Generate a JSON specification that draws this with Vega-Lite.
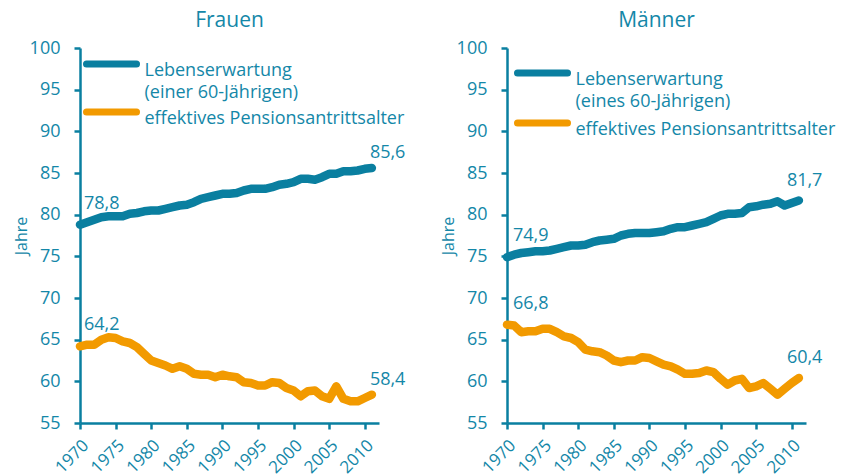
{
"$schema": "https://vega.github.io/schema/vega-lite/v6.json",
"padding": {"left": 13, "top": 10, "right": 2, "bottom": 0},
"config": {
  "font": "Open Sans",
  "view": {"stroke": null},
  "locale": {"number": {"decimal": ",", "thousands": ".", "grouping": [3], "currency": ["", " €"]}},
  "axis": {"domainColor": "#0a7fa0", "tickColor": "#0a7fa0", "labelColor": "#1487a8", "titleColor": "#1487a8", "grid": false, "domainWidth": 2.5, "tickWidth": 2.5, "tickSize": 6, "labelFontSize": 18, "titleFontSize": 16, "titleFontWeight": "normal"},
  "axisX": {"labelFontSize": 17},
  "title": {"color": "#1487a8", "fontSize": 21, "fontWeight": "normal", "offset": 8},
  "concat": {"spacing": 34}
},
"data": {"values": [
{"g":"Frauen","s":"LE","year":1970,"v":78.8},{"g":"Frauen","s":"LE","year":1971,"v":79.1},{"g":"Frauen","s":"LE","year":1972,"v":79.4},{"g":"Frauen","s":"LE","year":1973,"v":79.7},{"g":"Frauen","s":"LE","year":1974,"v":79.8},{"g":"Frauen","s":"LE","year":1975,"v":79.8},{"g":"Frauen","s":"LE","year":1976,"v":79.8},{"g":"Frauen","s":"LE","year":1977,"v":80.1},{"g":"Frauen","s":"LE","year":1978,"v":80.2},{"g":"Frauen","s":"LE","year":1979,"v":80.4},{"g":"Frauen","s":"LE","year":1980,"v":80.5},{"g":"Frauen","s":"LE","year":1981,"v":80.5},{"g":"Frauen","s":"LE","year":1982,"v":80.7},{"g":"Frauen","s":"LE","year":1983,"v":80.9},{"g":"Frauen","s":"LE","year":1984,"v":81.1},{"g":"Frauen","s":"LE","year":1985,"v":81.2},{"g":"Frauen","s":"LE","year":1986,"v":81.5},{"g":"Frauen","s":"LE","year":1987,"v":81.9},{"g":"Frauen","s":"LE","year":1988,"v":82.1},{"g":"Frauen","s":"LE","year":1989,"v":82.3},{"g":"Frauen","s":"LE","year":1990,"v":82.5},{"g":"Frauen","s":"LE","year":1991,"v":82.5},{"g":"Frauen","s":"LE","year":1992,"v":82.6},{"g":"Frauen","s":"LE","year":1993,"v":82.9},{"g":"Frauen","s":"LE","year":1994,"v":83.1},{"g":"Frauen","s":"LE","year":1995,"v":83.1},{"g":"Frauen","s":"LE","year":1996,"v":83.1},{"g":"Frauen","s":"LE","year":1997,"v":83.3},{"g":"Frauen","s":"LE","year":1998,"v":83.6},{"g":"Frauen","s":"LE","year":1999,"v":83.7},{"g":"Frauen","s":"LE","year":2000,"v":83.9},{"g":"Frauen","s":"LE","year":2001,"v":84.3},{"g":"Frauen","s":"LE","year":2002,"v":84.3},{"g":"Frauen","s":"LE","year":2003,"v":84.2},{"g":"Frauen","s":"LE","year":2004,"v":84.5},{"g":"Frauen","s":"LE","year":2005,"v":84.9},{"g":"Frauen","s":"LE","year":2006,"v":84.9},{"g":"Frauen","s":"LE","year":2007,"v":85.2},{"g":"Frauen","s":"LE","year":2008,"v":85.2},{"g":"Frauen","s":"LE","year":2009,"v":85.3},{"g":"Frauen","s":"LE","year":2010,"v":85.5},{"g":"Frauen","s":"LE","year":2011,"v":85.6},
{"g":"Frauen","s":"PA","year":1970,"v":64.2},{"g":"Frauen","s":"PA","year":1971,"v":64.4},{"g":"Frauen","s":"PA","year":1972,"v":64.4},{"g":"Frauen","s":"PA","year":1973,"v":65.0},{"g":"Frauen","s":"PA","year":1974,"v":65.3},{"g":"Frauen","s":"PA","year":1975,"v":65.2},{"g":"Frauen","s":"PA","year":1976,"v":64.8},{"g":"Frauen","s":"PA","year":1977,"v":64.6},{"g":"Frauen","s":"PA","year":1978,"v":64.1},{"g":"Frauen","s":"PA","year":1979,"v":63.3},{"g":"Frauen","s":"PA","year":1980,"v":62.5},{"g":"Frauen","s":"PA","year":1981,"v":62.2},{"g":"Frauen","s":"PA","year":1982,"v":61.9},{"g":"Frauen","s":"PA","year":1983,"v":61.5},{"g":"Frauen","s":"PA","year":1984,"v":61.8},{"g":"Frauen","s":"PA","year":1985,"v":61.5},{"g":"Frauen","s":"PA","year":1986,"v":60.9},{"g":"Frauen","s":"PA","year":1987,"v":60.8},{"g":"Frauen","s":"PA","year":1988,"v":60.8},{"g":"Frauen","s":"PA","year":1989,"v":60.5},{"g":"Frauen","s":"PA","year":1990,"v":60.8},{"g":"Frauen","s":"PA","year":1991,"v":60.6},{"g":"Frauen","s":"PA","year":1992,"v":60.5},{"g":"Frauen","s":"PA","year":1993,"v":59.9},{"g":"Frauen","s":"PA","year":1994,"v":59.8},{"g":"Frauen","s":"PA","year":1995,"v":59.5},{"g":"Frauen","s":"PA","year":1996,"v":59.5},{"g":"Frauen","s":"PA","year":1997,"v":59.9},{"g":"Frauen","s":"PA","year":1998,"v":59.8},{"g":"Frauen","s":"PA","year":1999,"v":59.2},{"g":"Frauen","s":"PA","year":2000,"v":58.9},{"g":"Frauen","s":"PA","year":2001,"v":58.2},{"g":"Frauen","s":"PA","year":2002,"v":58.8},{"g":"Frauen","s":"PA","year":2003,"v":58.9},{"g":"Frauen","s":"PA","year":2004,"v":58.2},{"g":"Frauen","s":"PA","year":2005,"v":57.9},{"g":"Frauen","s":"PA","year":2006,"v":59.4},{"g":"Frauen","s":"PA","year":2007,"v":57.9},{"g":"Frauen","s":"PA","year":2008,"v":57.6},{"g":"Frauen","s":"PA","year":2009,"v":57.6},{"g":"Frauen","s":"PA","year":2010,"v":58.0},{"g":"Frauen","s":"PA","year":2011,"v":58.4},
{"g":"Männer","s":"LE","year":1970,"v":74.9},{"g":"Männer","s":"LE","year":1971,"v":75.2},{"g":"Männer","s":"LE","year":1972,"v":75.4},{"g":"Männer","s":"LE","year":1973,"v":75.5},{"g":"Männer","s":"LE","year":1974,"v":75.6},{"g":"Männer","s":"LE","year":1975,"v":75.6},{"g":"Männer","s":"LE","year":1976,"v":75.7},{"g":"Männer","s":"LE","year":1977,"v":75.9},{"g":"Männer","s":"LE","year":1978,"v":76.1},{"g":"Männer","s":"LE","year":1979,"v":76.3},{"g":"Männer","s":"LE","year":1980,"v":76.3},{"g":"Männer","s":"LE","year":1981,"v":76.4},{"g":"Männer","s":"LE","year":1982,"v":76.7},{"g":"Männer","s":"LE","year":1983,"v":76.9},{"g":"Männer","s":"LE","year":1984,"v":77.0},{"g":"Männer","s":"LE","year":1985,"v":77.1},{"g":"Männer","s":"LE","year":1986,"v":77.5},{"g":"Männer","s":"LE","year":1987,"v":77.7},{"g":"Männer","s":"LE","year":1988,"v":77.8},{"g":"Männer","s":"LE","year":1989,"v":77.8},{"g":"Männer","s":"LE","year":1990,"v":77.8},{"g":"Männer","s":"LE","year":1991,"v":77.9},{"g":"Männer","s":"LE","year":1992,"v":78.0},{"g":"Männer","s":"LE","year":1993,"v":78.3},{"g":"Männer","s":"LE","year":1994,"v":78.5},{"g":"Männer","s":"LE","year":1995,"v":78.5},{"g":"Männer","s":"LE","year":1996,"v":78.7},{"g":"Männer","s":"LE","year":1997,"v":78.9},{"g":"Männer","s":"LE","year":1998,"v":79.1},{"g":"Männer","s":"LE","year":1999,"v":79.5},{"g":"Männer","s":"LE","year":2000,"v":79.9},{"g":"Männer","s":"LE","year":2001,"v":80.1},{"g":"Männer","s":"LE","year":2002,"v":80.1},{"g":"Männer","s":"LE","year":2003,"v":80.2},{"g":"Männer","s":"LE","year":2004,"v":80.9},{"g":"Männer","s":"LE","year":2005,"v":81.0},{"g":"Männer","s":"LE","year":2006,"v":81.2},{"g":"Männer","s":"LE","year":2007,"v":81.3},{"g":"Männer","s":"LE","year":2008,"v":81.6},{"g":"Männer","s":"LE","year":2009,"v":81.1},{"g":"Männer","s":"LE","year":2010,"v":81.4},{"g":"Männer","s":"LE","year":2011,"v":81.7},
{"g":"Männer","s":"PA","year":1970,"v":66.8},{"g":"Männer","s":"PA","year":1971,"v":66.7},{"g":"Männer","s":"PA","year":1972,"v":65.9},{"g":"Männer","s":"PA","year":1973,"v":66.0},{"g":"Männer","s":"PA","year":1974,"v":66.0},{"g":"Männer","s":"PA","year":1975,"v":66.3},{"g":"Männer","s":"PA","year":1976,"v":66.3},{"g":"Männer","s":"PA","year":1977,"v":65.9},{"g":"Männer","s":"PA","year":1978,"v":65.4},{"g":"Männer","s":"PA","year":1979,"v":65.2},{"g":"Männer","s":"PA","year":1980,"v":64.7},{"g":"Männer","s":"PA","year":1981,"v":63.8},{"g":"Männer","s":"PA","year":1982,"v":63.6},{"g":"Männer","s":"PA","year":1983,"v":63.5},{"g":"Männer","s":"PA","year":1984,"v":63.1},{"g":"Männer","s":"PA","year":1985,"v":62.5},{"g":"Männer","s":"PA","year":1986,"v":62.3},{"g":"Männer","s":"PA","year":1987,"v":62.5},{"g":"Männer","s":"PA","year":1988,"v":62.5},{"g":"Männer","s":"PA","year":1989,"v":62.9},{"g":"Männer","s":"PA","year":1990,"v":62.8},{"g":"Männer","s":"PA","year":1991,"v":62.4},{"g":"Männer","s":"PA","year":1992,"v":62.0},{"g":"Männer","s":"PA","year":1993,"v":61.8},{"g":"Männer","s":"PA","year":1994,"v":61.4},{"g":"Männer","s":"PA","year":1995,"v":60.9},{"g":"Männer","s":"PA","year":1996,"v":60.9},{"g":"Männer","s":"PA","year":1997,"v":61.0},{"g":"Männer","s":"PA","year":1998,"v":61.3},{"g":"Männer","s":"PA","year":1999,"v":61.1},{"g":"Männer","s":"PA","year":2000,"v":60.3},{"g":"Männer","s":"PA","year":2001,"v":59.6},{"g":"Männer","s":"PA","year":2002,"v":60.1},{"g":"Männer","s":"PA","year":2003,"v":60.3},{"g":"Männer","s":"PA","year":2004,"v":59.2},{"g":"Männer","s":"PA","year":2005,"v":59.4},{"g":"Männer","s":"PA","year":2006,"v":59.8},{"g":"Männer","s":"PA","year":2007,"v":59.1},{"g":"Männer","s":"PA","year":2008,"v":58.4},{"g":"Männer","s":"PA","year":2009,"v":59.1},{"g":"Männer","s":"PA","year":2010,"v":59.8},{"g":"Männer","s":"PA","year":2011,"v":60.4}
]},
"hconcat": [
{
  "width": 299, "height": 375,
  "title": "Frauen",
  "transform": [{"filter": "datum.g == 'Frauen'"}],
  "encoding": {
    "x": {"field": "year", "type": "quantitative", "scale": {"domain": [1970, 2012], "nice": false, "zero": false}, "axis": {"values": [1970,1975,1980,1985,1990,1995,2000,2005,2010], "format": "d", "labelAngle": -45, "labelAlign": "right", "labelBaseline": "top", "labelPadding": 8, "labelOverlap": false, "title": null}},
    "y": {"field": "v", "type": "quantitative", "scale": {"domain": [55, 100], "nice": false, "zero": false}, "axis": {"values": [55,60,65,70,75,80,85,90,95,100], "title": "Jahre", "labelPadding": 14, "titlePadding": 0}}
  },
  "layer": [
    {"mark": {"type": "line", "strokeWidth": 8.5, "strokeCap": "round", "strokeJoin": "round"},
     "encoding": {"color": {"field": "s", "type": "nominal", "scale": {"domain": ["LE", "PA"], "range": ["#0a7fa0", "#f29a00"]},
       "legend": {"title": null, "orient": "none", "legendX": 3, "legendY": 7, "padding": 0, "symbolType": "M-5,0H5", "symbolSize": 100, "symbolStrokeWidth": 7, "symbolOffset": 19.5, "labelFontSize": 18, "labelColor": "#1487a8", "labelOffset": 24, "labelLimit": 400, "labelBaseline": "alphabetic", "rowPadding": -4,
         "labelExpr": "datum.label == 'LE' ? ['Lebenserwartung', '(einer 60-Jährigen)'] : 'effektives Pensionsantrittsalter'",
         "encode": {"symbols": {"update": {"strokeCap": {"value": "round"}}}, "labels": {"update": {"dy": {"value": 12}, "lineHeight": {"value": 22}}}}}}}},
    {"transform": [{"filter": "datum.year == 1970"}],
     "mark": {"type": "text", "align": "left", "dx": 4, "dy": -21, "fontSize": 18, "color": "#1487a8"},
     "encoding": {"text": {"field": "v", "type": "quantitative", "format": ".1f"}}},
    {"transform": [{"filter": "datum.year == 2011"}],
     "mark": {"type": "text", "align": "left", "dx": -2, "dy": -15, "fontSize": 18, "color": "#1487a8"},
     "encoding": {"text": {"field": "v", "type": "quantitative", "format": ".1f"}}}
  ]
},
{
  "width": 299, "height": 375,
  "title": "Männer",
  "transform": [{"filter": "datum.g == 'Männer'"}],
  "encoding": {
    "x": {"field": "year", "type": "quantitative", "scale": {"domain": [1970, 2012], "nice": false, "zero": false}, "axis": {"values": [1970,1975,1980,1985,1990,1995,2000,2005,2010], "format": "d", "labelAngle": -45, "labelAlign": "right", "labelBaseline": "top", "labelPadding": 8, "labelOverlap": false, "title": null}},
    "y": {"field": "v", "type": "quantitative", "scale": {"domain": [55, 100], "nice": false, "zero": false}, "axis": {"values": [55,60,65,70,75,80,85,90,95,100], "title": "Jahre", "labelPadding": 14, "titlePadding": 0}}
  },
  "layer": [
    {"mark": {"type": "line", "strokeWidth": 8.5, "strokeCap": "round", "strokeJoin": "round"},
     "encoding": {"color": {"field": "s", "type": "nominal", "scale": {"domain": ["LE", "PA"], "range": ["#0a7fa0", "#f29a00"]},
       "legend": {"title": null, "orient": "none", "legendX": 7, "legendY": 16, "padding": 0, "symbolType": "M-5,0H5", "symbolSize": 100, "symbolStrokeWidth": 7, "symbolOffset": 19.5, "labelFontSize": 18, "labelColor": "#1487a8", "labelOffset": 24, "labelLimit": 400, "labelBaseline": "alphabetic", "rowPadding": -2,
         "labelExpr": "datum.label == 'LE' ? ['Lebenserwartung', '(eines 60-Jährigen)'] : 'effektives Pensionsantrittsalter'",
         "encode": {"symbols": {"update": {"strokeCap": {"value": "round"}}}, "labels": {"update": {"dy": {"value": 12}, "lineHeight": {"value": 22}}}}}}}},
    {"transform": [{"filter": "datum.year == 1970"}],
     "mark": {"type": "text", "align": "left", "dx": 6, "dy": -21, "fontSize": 18, "color": "#1487a8"},
     "encoding": {"text": {"field": "v", "type": "quantitative", "format": ".1f"}}},
    {"transform": [{"filter": "datum.year == 2011"}],
     "mark": {"type": "text", "align": "left", "dx": -12, "dy": -20, "fontSize": 18, "color": "#1487a8"},
     "encoding": {"text": {"field": "v", "type": "quantitative", "format": ".1f"}}}
  ]
}
],
"resolve": {"scale": {"color": "independent"}, "legend": {"color": "independent"}}
}
